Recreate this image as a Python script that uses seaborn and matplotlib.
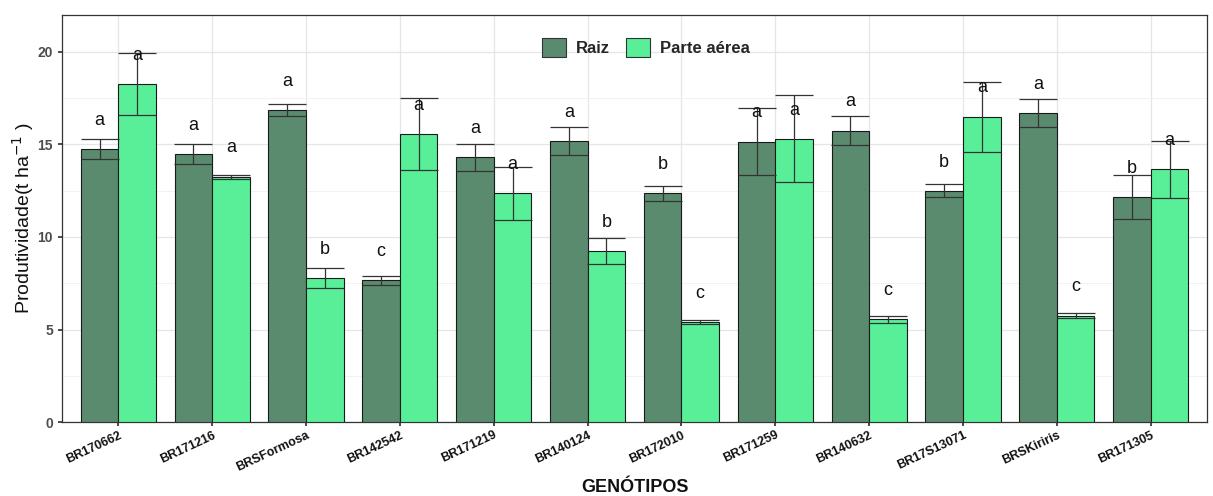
import numpy as np
import pandas as pd
import matplotlib
matplotlib.use("Agg")
import matplotlib.pyplot as plt
import seaborn as sns
from matplotlib.ticker import MultipleLocator
from matplotlib.patches import Patch

genotipos = ["BR170662", "BR171216", "BRSFormosa", "BR142542", "BR171219", "BR140124",
             "BR172010", "BR171259", "BR140632", "BR17S13071", "BRSKiriris", "BR171305"]
raiz = [14.75, 14.47, 16.86, 7.65, 14.3, 15.2, 12.35, 15.15, 15.75, 12.5, 16.7, 12.15]
raiz_err = [0.55, 0.55, 0.33, 0.25, 0.75, 0.75, 0.4, 1.8, 0.8, 0.35, 0.75, 1.2]
aerea = [18.25, 13.26, 7.8, 15.58, 12.35, 9.25, 5.4, 15.3, 5.55, 16.5, 5.75, 13.65]
aerea_err = [1.67, 0.1, 0.55, 1.95, 1.45, 0.7, 0.1, 2.35, 0.2, 1.9, 0.15, 1.55]
raiz_letras = ["a", "a", "a", "c", "a", "a", "b", "a", "a", "b", "a", "b"]
aerea_letras = ["a", "a", "b", "a", "a", "b", "c", "a", "c", "a", "c", "a"]
series = ["Raiz", "Parte aérea"]
cores = ["#5A8B6E", "#58EF98"]

df = pd.DataFrame({
    "Genotipo": genotipos * 2,
    "Parte": [series[0]] * len(genotipos) + [series[1]] * len(genotipos),
    "Valor": raiz + aerea,
})

sns.set_theme(style="white")
plt.rcParams["font.family"] = ["Liberation Sans", "DejaVu Sans"]

fig = plt.figure(figsize=(12.13, 4.96), dpi=100)
ax = fig.add_axes([0.0511, 0.149, 0.944, 0.821])

sns.barplot(data=df, x="Genotipo", y="Valor", hue="Parte", order=genotipos,
            hue_order=series, palette=cores, saturation=1, errorbar=None, width=0.8,
            edgecolor="#1a1a1a", linewidth=0.8, ax=ax, zorder=3, legend=False)

for hue_idx, (vals, errs, letras) in enumerate([(raiz, raiz_err, raiz_letras),
                                                (aerea, aerea_err, aerea_letras)]):
    for i, (v, e, l) in enumerate(zip(vals, errs, letras)):
        xc = i - 0.2 + 0.4 * hue_idx
        ax.errorbar(xc, v, yerr=e, fmt="none", ecolor="#333333", elinewidth=0.9,
                    capsize=14, capthick=0.9, zorder=4)
        ax.text(xc, v + 1.55, l, ha="center", va="center", fontsize=13,
                color="#111111", zorder=5)

ax.set_xlim(-0.6, len(genotipos) - 0.4)
ax.set_ylim(0, 22)
ax.yaxis.set_major_locator(MultipleLocator(5))
ax.yaxis.set_minor_locator(MultipleLocator(2.5))
ax.grid(True, which="major", axis="both", color="#e6e6e6", linewidth=0.9, zorder=0)
ax.grid(True, which="minor", axis="y", color="#f0f0f0", linewidth=0.6, zorder=0)
ax.set_axisbelow(True)

for s in ax.spines.values():
    s.set_color("#333333")
    s.set_linewidth(0.9)

ax.tick_params(axis="y", which="major", length=3, color="#333333", labelsize=10,
               labelcolor="#4d4d4d", direction="out", left=True)
ax.tick_params(axis="y", which="minor", length=0)
ax.tick_params(axis="x", length=3, color="#333333", direction="out", bottom=True, pad=2)
for t in ax.get_yticklabels():
    t.set_fontweight("bold")
ax.set_xticks(range(len(genotipos)))
ax.set_xticklabels(genotipos, rotation=25, ha="right", rotation_mode="anchor",
                   fontsize=9, fontweight="bold", color="#111111")

ax.set_xlabel("GENÓTIPOS", fontsize=13, fontweight="bold", color="#111111", labelpad=4)
ax.set_ylabel("Produtividade(t ha$^{-1}$ )", fontsize=14, color="#111111", labelpad=1)

handles = [Patch(facecolor=c, edgecolor="#333333", linewidth=0.8) for c in cores]
leg = ax.legend(handles, series, loc="upper center", bbox_to_anchor=(0.51, 0.98), ncol=2,
                frameon=False, fontsize=12, handlelength=1.4, handleheight=1.4,
                columnspacing=1.0, handletextpad=0.6)
for t in leg.get_texts():
    t.set_fontweight("bold")

fig.savefig("out.png", dpi=100)
